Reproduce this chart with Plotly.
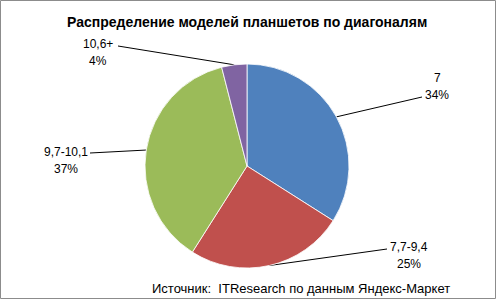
import math
import plotly.graph_objects as go

# ---- data ----
categories = ["7", "7,7-9,4", "9,7-10,1", "10,6+"]
values = [34, 25, 37, 4]
percent_labels = ["34%", "25%", "37%", "4%"]
colors = ["#4F81BD", "#C0504D", "#9BBB59", "#8064A2"]

title_text = "Распределение моделей планшетов по диагоналям"
source_text = "Источник:  ITResearch по данным Яндекс-Маркет"

# ---- layout constants (pixels) ----
W, H = 497, 300
cx, cy, R = 247, 166, 102
label_ends = [(422, 97), (387, 249), (90, 153), (118, 46)]
label_text_pos = [(437, 86), (409, 255), (66, 160), (98, 52)]
line_gap = 8.5

fig = go.Figure()

fig.add_trace(go.Pie(
    labels=categories,
    values=values,
    sort=False,
    direction="clockwise",
    rotation=0,
    marker=dict(colors=colors, line=dict(color="white", width=0.8)),
    textinfo="none",
    hoverinfo="label+percent",
    showlegend=False,
    domain=dict(x=[(cx - R) / W, (cx + R) / W], y=[(H - cy - R) / H, (H - cy + R) / H]),
))

# leader lines computed from slice mid-angles
total = sum(values)
lx, ly = [], []
cum = 0
for i, v in enumerate(values):
    mid = (cum + v / 2) / total * 2 * math.pi
    cum += v
    ex = cx + R * math.sin(mid)
    ey = cy - R * math.cos(mid)
    lx += [ex, label_ends[i][0], None]
    ly += [ey, label_ends[i][1], None]

fig.add_trace(go.Scatter(
    x=lx, y=ly, mode="lines",
    line=dict(color="black", width=1),
    hoverinfo="skip", showlegend=False,
))

lab_font = dict(family="Liberation Sans", size=12, color="black")
for i, cat in enumerate(categories):
    tx, ty = label_text_pos[i]
    fig.add_annotation(x=tx, y=ty - line_gap, xref="x", yref="y", text=cat,
                       showarrow=False, font=lab_font)
    fig.add_annotation(x=tx, y=ty + line_gap, xref="x", yref="y", text=percent_labels[i],
                       showarrow=False, font=lab_font)

fig.add_annotation(
    x=247, y=22, xref="x", yref="y", text=f"<b>{title_text}</b>",
    showarrow=False, font=dict(family="Liberation Sans", size=14, color="black"),
)
fig.add_annotation(
    x=301, y=288, xref="x", yref="y", text=source_text,
    showarrow=False, font=dict(family="Liberation Sans", size=13, color="black"),
)

fig.add_shape(
    type="rect", xref="x", yref="y", x0=0.5, y0=0.5, x1=W - 1.5, y1=H - 1.5,
    line=dict(color="#8C8C8C", width=1),
)

fig.update_layout(
    width=W, height=H,
    margin=dict(l=0, r=0, t=0, b=0),
    paper_bgcolor="white", plot_bgcolor="rgba(0,0,0,0)",
    xaxis=dict(range=[0, W], visible=False, fixedrange=True),
    yaxis=dict(range=[H, 0], visible=False, fixedrange=True),
)

fig.write_html("out.html")
